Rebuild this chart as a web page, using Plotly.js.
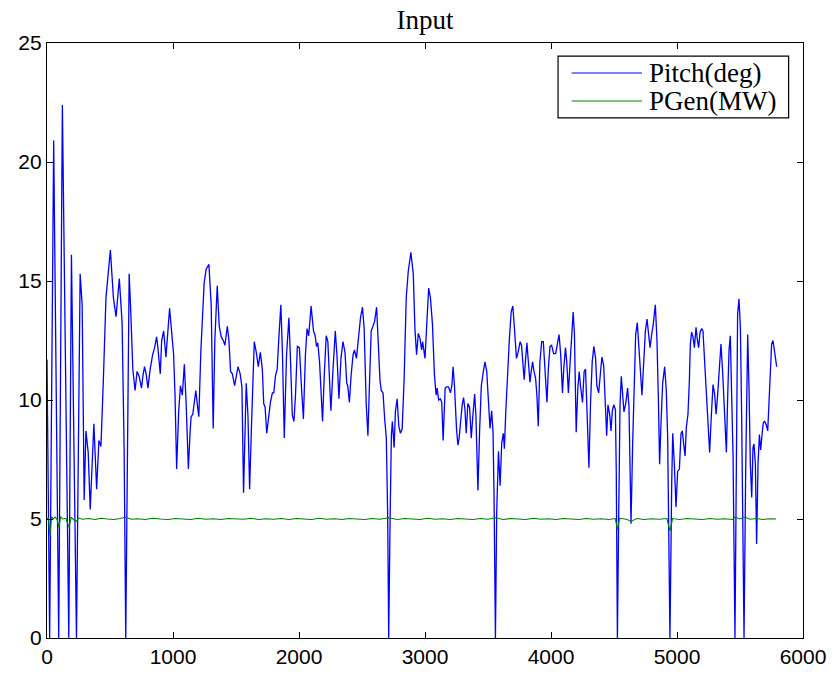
<!DOCTYPE html>
<html>
<head>
<meta charset="utf-8">
<script src="https://cdn.plot.ly/plotly-3.0.1.min.js"></script>
<style>
  html, body { margin: 0; padding: 0; background: #fff; }
  #chart { width: 833px; height: 677px; }
</style>
</head>
<body>
<div id="chart"></div>
<script>
// Blade pitch angle (deg) over time
var pitchX = [
  0, 21, 53, 93, 122, 173, 194, 234, 263, 279,
  295, 309, 327, 343, 372, 394, 412, 428, 447, 468,
  503, 527, 548, 574, 596, 612, 625, 640, 652, 665,
  681, 699, 715, 731, 739, 750, 761, 774, 787, 801,
  819, 838, 854, 870, 880, 899, 910, 926, 944, 960,
  973, 987, 1005, 1016, 1029, 1045, 1059, 1074, 1090, 1104,
  1122, 1136, 1144, 1157, 1181, 1191, 1205, 1221, 1247, 1263,
  1285, 1303, 1319, 1332, 1351, 1367, 1383, 1399, 1412, 1431,
  1444, 1457, 1471, 1489, 1503, 1516, 1533, 1547, 1560, 1581,
  1595, 1608, 1624, 1645, 1661, 1677, 1693, 1709, 1720, 1731,
  1744, 1760, 1773, 1789, 1800, 1813, 1827, 1840, 1856, 1869,
  1883, 1901, 1920, 1933, 1947, 1960, 1973, 1987, 2003, 2019,
  2035, 2051, 2064, 2077, 2096, 2115, 2128, 2139, 2149, 2163,
  2173, 2187, 2200, 2216, 2229, 2243, 2253, 2269, 2288, 2301,
  2317, 2333, 2349, 2365, 2379, 2387, 2400, 2413, 2429, 2440,
  2456, 2472, 2488, 2504, 2517, 2533, 2547, 2560, 2573, 2587,
  2600, 2616, 2629, 2643, 2653, 2667, 2680, 2693, 2704, 2712,
  2723, 2733, 2741, 2755, 2765, 2779, 2792, 2805, 2819, 2835,
  2851, 2867, 2888, 2907, 2920, 2933, 2947, 2960, 2973, 2981,
  3000, 3013, 3029, 3043, 3059, 3075, 3088, 3096, 3109, 3122,
  3133, 3144, 3160, 3170, 3186, 3202, 3213, 3223, 3234, 3250,
  3261, 3271, 3285, 3295, 3306, 3317, 3327, 3340, 3354, 3367,
  3380, 3394, 3404, 3420, 3434, 3447, 3463, 3476, 3490, 3503,
  3516, 3529, 3540, 3548, 3559, 3569, 3583, 3596, 3609, 3622,
  3630, 3641, 3654, 3670, 3684, 3697, 3710, 3726, 3739, 3755,
  3766, 3779, 3787, 3798, 3809, 3819, 3833, 3843, 3854, 3865,
  3878, 3888, 3899, 3912, 3926, 3939, 3952, 3968, 3979, 3992,
  4005, 4021, 4037, 4051, 4064, 4077, 4091, 4101, 4115, 4125,
  4138, 4152, 4165, 4176, 4186, 4200, 4213, 4224, 4234, 4250,
  4263, 4274, 4287, 4301, 4314, 4327, 4340, 4354, 4364, 4378,
  4391, 4404, 4418, 4431, 4442, 4452, 4466, 4476, 4487, 4498,
  4511, 4518, 4527, 4537, 4548, 4558, 4569, 4579, 4593, 4608,
  4619, 4628, 4635, 4648, 4661, 4672, 4685, 4698, 4709, 4722,
  4735, 4749, 4762, 4775, 4786, 4799, 4812, 4828, 4841, 4852,
  4862, 4873, 4886, 4902, 4915, 4926, 4944, 4958, 4966, 4979,
  4992, 5005, 5019, 5032, 5042, 5053, 5064, 5074, 5087, 5098,
  5106, 5116, 5127, 5138, 5151, 5161, 5172, 5183, 5196, 5206,
  5217, 5230, 5243, 5259, 5273, 5286, 5299, 5310, 5323, 5336,
  5349, 5362, 5376, 5392, 5402, 5413, 5423, 5434, 5445, 5460,
  5471, 5481, 5492, 5503, 5513, 5532, 5545, 5553, 5561, 5572,
  5582, 5593, 5603, 5611, 5622, 5632, 5643, 5654, 5664, 5675,
  5685, 5696, 5709, 5720, 5730, 5741, 5751, 5762, 5773, 5781,
  5791
];
var pitchDeg = [
  11.7, 0, 20.9, 0, 22.4, 0, 16.1, 0, 15.3, 14.0,
  5.8, 8.7, 7.8, 5.4, 9.0, 6.25, 8.3, 8.05, 10.8, 14.3,
  16.3, 14.3, 13.5, 15.1, 13.25, 8.0, 0, 9.5, 15.3, 13.7,
  11.3, 10.4, 11.2, 11.0, 10.8, 10.5, 11.0, 11.4, 11.1, 10.5,
  11.3, 11.9, 12.2, 12.65, 12.2, 11.1, 12.5, 12.9, 11.8, 12.8,
  13.85, 13.0, 11.9, 10.2, 7.1, 9.5, 10.6, 10.2, 11.5, 9.9,
  7.1, 8.7, 9.3, 9.4, 10.4, 9.9, 9.3, 12.05, 14.9, 15.5,
  15.7, 14.0, 8.8, 12.5, 14.8, 13.1, 12.65, 12.5, 12.3, 13.1,
  12.5, 11.2, 11.1, 10.6, 11.1, 11.4, 11.1, 10.55, 6.1, 10.7,
  9.35, 6.25, 9.1, 12.45, 12.0, 11.4, 12.0, 11.3, 9.85, 9.7,
  8.6, 9.3, 9.9, 10.3, 10.3, 11.0, 11.3, 12.6, 14.0, 11.9,
  8.4, 11.9, 13.45, 11.6, 9.35, 9.1, 10.3, 12.25, 12.2, 10.6,
  9.2, 11.9, 13.0, 12.7, 13.95, 12.9, 12.7, 12.25, 12.4, 11.6,
  10.3, 9.1, 11.0, 12.7, 12.45, 10.9, 9.55, 11.2, 12.9, 11.9,
  10.05, 11.75, 12.45, 12.0, 10.7, 10.6, 9.9, 11.0, 11.9, 12.1,
  11.75, 12.6, 13.45, 13.9, 13.0, 9.9, 8.5, 10.8, 12.9, 13.1,
  13.3, 13.9, 12.6, 10.8, 10.4, 10.3, 9.2, 8.4, 5.1, 0,
  5.0, 8.5, 9.1, 8.0, 9.5, 10.05, 8.9, 8.6, 8.8, 11.0,
  14.3, 15.4, 16.2, 15.3, 13.0, 11.9, 12.8, 12.6, 12.1, 12.45,
  11.75, 13.2, 14.7, 14.3, 13.2, 11.05, 10.2, 10.5, 10.0, 10.05,
  9.9, 8.3, 10.5, 10.55, 10.55, 10.3, 10.6, 11.4, 10.6, 8.8,
  8.1, 8.4, 9.35, 9.8, 10.1, 9.6, 8.6, 9.85, 9.7, 8.4,
  9.35, 10.25, 9.35, 6.2, 8.8, 10.6, 11.2, 11.6, 11.2, 9.9,
  8.8, 9.55, 8.65, 5.95, 0, 5.25, 7.85, 6.4, 8.2, 8.6,
  7.95, 9.5, 11.2, 12.6, 13.7, 13.95, 13.0, 11.75, 12.0, 12.45,
  12.3, 11.3, 10.85, 11.7, 12.4, 11.7, 10.75, 11.2, 11.6, 11.2,
  10.9, 10.2, 8.9, 11.6, 12.45, 12.45, 11.45, 9.9, 11.3, 12.25,
  12.3, 11.95, 11.95, 12.4, 12.75, 11.9, 10.3, 11.3, 12.2, 11.6,
  10.3, 11.6, 13.0, 13.7, 12.75, 8.65, 10.5, 11.2, 10.6, 9.9,
  11.2, 11.3, 9.35, 7.15, 9.9, 11.6, 12.25, 11.75, 10.6, 10.3,
  11.05, 11.8, 11.45, 9.8, 8.5, 9.8, 9.4, 8.7, 9.55, 9.8,
  9.6, 7.0, 0, 5.0, 9.85, 11.0, 10.1, 9.5, 9.85, 10.5,
  9.7, 7.0, 4.8, 8.15, 11.1, 12.75, 13.25, 12.2, 10.95, 10.2,
  11.5, 12.9, 13.4, 12.75, 12.2, 12.75, 13.2, 14.0, 12.5, 10.1,
  7.3, 9.0, 10.7, 11.4, 10.4, 8.4, 0, 6.5, 8.6, 7.3,
  5.5, 7.0, 7.1, 8.6, 8.7, 8.15, 7.65, 8.85, 9.4, 10.8,
  12.35, 12.85, 12.65, 12.2, 13.05, 12.55, 12.2, 12.85, 13.0, 12.9,
  11.8, 10.5, 9.0, 7.8, 9.4, 10.65, 10.25, 9.4, 10.25, 11.2,
  12.35, 11.2, 9.4, 7.8, 10.1, 12.1, 12.7, 10.65, 7.6, 0,
  8.4, 13.6, 14.25, 13.05, 9.4, 0, 7.0, 11.1, 12.75, 10.4,
  7.3, 5.9, 8.0, 8.15, 7.3, 3.95, 7.3, 8.55, 7.9, 8.55,
  9.05, 9.1, 8.95, 8.7, 9.85, 11.5, 12.35, 12.5, 12.1, 11.8,
  11.4
];

// Generator power (MW) over time
var pgenX = [
  0, 12, 24, 36, 50, 64, 80, 95, 108, 125,
  150, 175, 192, 212, 234, 252, 280, 330, 380, 430,
  480, 530, 580, 625, 670, 720, 780, 840, 900, 960,
  1020, 1080, 1140, 1200, 1260, 1320, 1380, 1440, 1500, 1560,
  1620, 1680, 1740, 1800, 1860, 1920, 1980, 2040, 2100, 2160,
  2220, 2280, 2340, 2400, 2460, 2520, 2580, 2640, 2712, 2780,
  2840, 2900, 2960, 3020, 3080, 3140, 3200, 3260, 3320, 3380,
  3440, 3500, 3559, 3620, 3680, 3740, 3800, 3860, 3920, 3980,
  4040, 4100, 4160, 4220, 4280, 4340, 4400, 4460, 4510, 4527,
  4545, 4600, 4635, 4680, 4740, 4800, 4860, 4920, 4944, 4965,
  5020, 5080, 5140, 5200, 5260, 5320, 5380, 5440, 5460, 5500,
  5532, 5580, 5632, 5680, 5740, 5786
];
var pgenMW = [
  5.02, 5.05, 4.3, 5.1, 5.0, 5.08, 4.98, 4.65, 5.1, 5.0,
  5.03, 4.65, 5.08, 4.97, 4.9, 5.04, 4.99, 5.02, 4.98, 5.03,
  5.0, 4.98, 5.02, 5.07, 4.99, 5.01, 4.98, 5.03, 5.0, 4.98,
  5.02, 5.0, 4.98, 5.03, 4.99, 5.01, 4.98, 5.02, 5.0, 4.99,
  5.03, 4.98, 5.01, 4.99, 5.02, 4.98, 5.02, 5.0, 4.98, 5.03,
  4.99, 5.01, 4.98, 5.02, 5.0, 4.98, 5.02, 4.99, 5.05, 4.98,
  5.02, 5.0, 4.98, 5.03, 4.99, 5.01, 4.98, 5.02, 5.0, 4.98,
  5.02, 4.99, 5.05, 4.98, 5.02, 5.0, 4.98, 5.03, 4.99, 5.01,
  4.98, 5.02, 5.0, 4.98, 5.02, 4.99, 5.01, 4.98, 5.02, 4.55,
  5.03, 4.99, 4.9, 5.02, 4.98, 5.01, 4.99, 5.02, 4.5, 5.02,
  4.98, 5.02, 5.0, 4.98, 5.02, 4.99, 5.01, 4.98, 5.08, 5.0,
  5.08, 4.99, 5.02, 4.98, 5.01, 5.0
];

var xTicks = [0, 1000, 2000, 3000, 4000, 5000, 6000];
var yTicks = [0, 5, 10, 15, 20, 25];

var traces = [
  {
    x: pitchX, y: pitchDeg, name: 'Pitch(deg)', type: 'scatter', mode: 'lines',
    line: { color: '#0000ff', width: 1.3 }
  },
  {
    x: pgenX, y: pgenMW, name: 'PGen(MW)', type: 'scatter', mode: 'lines',
    line: { color: '#008000', width: 1.1 }
  }
];

var axisCommon = {
  showgrid: false, zeroline: false,
  showline: true, linecolor: '#000', linewidth: 1.2,
  mirror: 'ticks', ticks: 'inside', ticklen: 6, tickwidth: 1, tickcolor: '#000',
  tickfont: { family: 'Liberation Sans, Arial, sans-serif', size: 21, color: '#000' }
};

// Boxed legend in the upper right corner: a framed box with a line sample per series
var serif = 'Liberation Serif, Times New Roman, serif';
var legendBox = { x0: 0.676, x1: 0.981, y0: 0.874, y1: 0.978 };
var legendRowsY = [0.9496, 0.9025];
var legendLineX = [0.694, 0.787];
var legendTextX = 0.793;

var shapes = [{
  type: 'rect', xref: 'paper', yref: 'paper',
  x0: legendBox.x0, x1: legendBox.x1, y0: legendBox.y0, y1: legendBox.y1,
  line: { color: '#000', width: 1.2 }, fillcolor: '#fff', layer: 'above'
}];
var annotations = [];
traces.forEach(function (tr, i) {
  shapes.push({
    type: 'line', xref: 'paper', yref: 'paper',
    x0: legendLineX[0], x1: legendLineX[1], y0: legendRowsY[i], y1: legendRowsY[i],
    line: { color: tr.line.color, width: 1.1 }, layer: 'above'
  });
  annotations.push({
    xref: 'paper', yref: 'paper', x: legendTextX, y: legendRowsY[i],
    xanchor: 'left', yanchor: 'middle', showarrow: false,
    text: tr.name, font: { family: serif, size: 27, color: '#000' }
  });
});

var layout = {
  width: 833, height: 677,
  paper_bgcolor: '#fff', plot_bgcolor: '#fff',
  margin: { l: 47, r: 30, t: 43, b: 39 },
  title: {
    text: 'Input',
    font: { family: serif, size: 27, color: '#000' },
    x: 0.5101, xanchor: 'center', y: 0.971, yanchor: 'middle'
  },
  xaxis: Object.assign({}, axisCommon, {
    range: [0, 6000], tickvals: xTicks, ticktext: xTicks.map(String)
  }),
  yaxis: Object.assign({}, axisCommon, {
    range: [0, 25], tickvals: yTicks, ticktext: yTicks.map(String)
  }),
  showlegend: false,
  shapes: shapes,
  annotations: annotations
};

Plotly.newPlot('chart', traces, layout, { displayModeBar: false, staticPlot: true });
</script>
</body>
</html>
